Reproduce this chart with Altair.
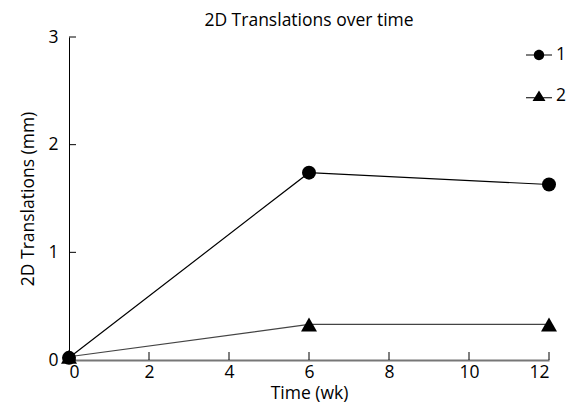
import altair as alt
import pandas as pd

weeks = [0, 6, 12]
series_1 = [0.02, 1.74, 1.63]
series_2 = [0.03, 0.33, 0.33]
series_names = ["1", "2"]
x_ticks = [0, 2, 4, 6, 8, 10, 12]
y_ticks = [0, 1, 2, 3]

df = pd.DataFrame({
    "week": weeks + weeks,
    "value": series_1 + series_2,
    "series": [series_names[0]] * len(weeks) + [series_names[1]] * len(weeks),
})
xt = pd.DataFrame({"t": x_ticks})
yt = pd.DataFrame({"t": y_ticks})

FONT = "Open Sans"
FS = 17.5
W, H = 480, 323

xscale = alt.Scale(domain=[0, 12], nice=False, zero=False)
yscale = alt.Scale(domain=[0, 3], nice=False)

x_enc = alt.X("week:Q", scale=xscale, title="Time (wk)",
              axis=alt.Axis(values=x_ticks, ticks=False, grid=False, domainColor="#777777",
                            domainWidth=2, labelFontSize=FS, labelPadding=3, format="d",
                            titleFontSize=FS, titleFontWeight="normal", titlePadding=4,
                            labelColor="black", titleColor="black", labelFont=FONT, titleFont=FONT))
y_enc = alt.Y("value:Q", scale=yscale, title="2D Translations (mm)",
              axis=alt.Axis(values=y_ticks, ticks=False, grid=False, domainColor="black",
                            domainWidth=1, labelFontSize=FS, labelPadding=11, format="d",
                            titleFontSize=FS, titleFontWeight="normal", titlePadding=10,
                            labelColor="black", titleColor="black", labelFont=FONT, titleFont=FONT))

lines = alt.Chart(df).mark_line(strokeWidth=1.2).encode(
    x=x_enc, y=y_enc,
    color=alt.Color("series:N", scale=alt.Scale(domain=series_names, range=["#000000", "#444444"]), legend=None),
    detail="series:N",
)

points = alt.Chart(df).mark_point(filled=True, opacity=1, color="black").encode(
    x="week:Q", y="value:Q",
    shape=alt.Shape("series:N", scale=alt.Scale(domain=series_names, range=["circle", "triangle-up"]), legend=None),
    size=alt.Size("series:N", scale=alt.Scale(domain=series_names, range=[196, 256]), legend=None),
)

# legend glyphs: marker with a short line through it (filled thin bars as the line)
circ_path = ("M-1,-0.04H-0.3V0.04H-1Z M0.3,-0.04H1V0.04H0.3Z "
             "M0.4,0A0.4,0.4 0 1,1 -0.4,0A0.4,0.4 0 1,1 0.4,0Z")
tri_path = ("M-1,0.1H1V0.18H-1Z "
            "M0,-0.42L0.5,0.38L-0.5,0.38Z")

legend_layer = alt.Chart(df).mark_point(filled=True, color="black", opacity=0).encode(
    x="week:Q", y="value:Q",
    shape=alt.Shape("series:N", scale=alt.Scale(domain=series_names, range=[circ_path, tri_path]),
                    legend=alt.Legend(title=None, orient="none", legendX=457, legendY=5,
                                      symbolSize=676, symbolOpacity=1, symbolFillColor="black",
                                      symbolStrokeWidth=0,
                                      labelFontSize=FS, labelFont=FONT, labelColor="black",
                                      labelOffset=4, rowPadding=19)),
)

xticks = alt.Chart(xt).mark_rule(color="black", strokeWidth=1).encode(
    x=alt.X("t:Q", scale=xscale), y=alt.value(H), y2=alt.value(H - 8))
yticks = alt.Chart(yt).mark_rule(color="black", strokeWidth=1).encode(
    y=alt.Y("t:Q", scale=yscale), x=alt.value(0), x2=alt.value(7))

chart = alt.layer(lines, xticks, yticks, points, legend_layer).resolve_scale(
    shape="independent"
).properties(
    width=W, height=H,
    title=alt.TitleParams("2D Translations over time", fontSize=FS, fontWeight="normal",
                          font=FONT, color="black", offset=-1),
    autosize=alt.AutoSizeParams(type="none"),
    padding={"left": 61, "top": 29, "right": 21, "bottom": 44},
).configure_view(stroke=None)

chart.save("out.html", embed_options={"renderer": "svg", "actions": False})
